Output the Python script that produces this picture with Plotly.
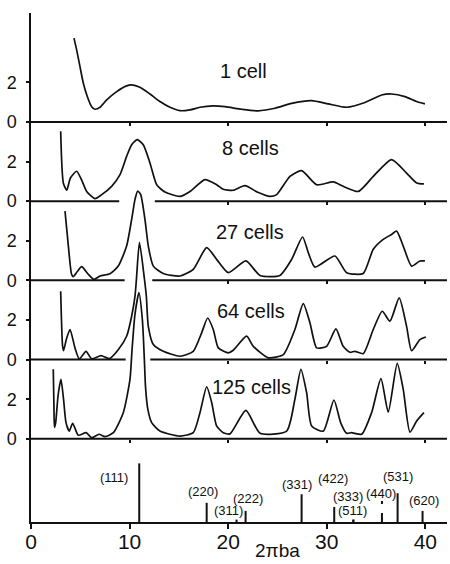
import plotly.graph_objects as go

# ---------------- data ----------------
panel_names = ["1 cell", "8 cells", "27 cells", "64 cells", "125 cells"]

x_1 = [4.36, 4.63, 4.97, 5.31, 5.71, 6.15, 6.49, 7.0, 7.68, 8.69, 9.7, 10.21, 11.05, 12.07, 13.08, 14.1,
       15.11, 16.13, 17.14, 18.49, 19.68, 21.37, 23.05, 24.75, 26.44, 28.47, 30.15, 32.02, 33.87, 35.57,
       36.58, 37.93, 39.12, 39.96]
v_1 = [4.23, 3.64, 2.79, 1.95, 1.28, 0.77, 0.64, 0.74, 1.11, 1.53, 1.82, 1.87, 1.75, 1.41, 1.03, 0.74,
       0.57, 0.61, 0.74, 0.81, 0.77, 0.64, 0.56, 0.69, 0.94, 1.08, 0.91, 0.74, 0.98, 1.36,
       1.41, 1.28, 1.03, 0.91]

x_8 = [3.01, 3.28, 3.62, 4.0, 4.63, 5.15, 5.65, 6.49, 7.17, 8.18, 9.03, 9.7, 10.21, 10.78, 11.39, 12.07,
       12.75, 13.59, 15.11, 16.13, 17.65, 18.83, 19.5, 20.52, 21.7, 23.0, 24.24, 24.92, 26.27, 27.45,
       28.98, 30.66, 31.67, 33.2, 34.72, 36.58, 38.1, 39.12, 39.86]
v_8 = [3.53, 0.92, 0.55, 1.17, 1.51, 1.05, 0.49, 0.13, 0.33, 0.75, 1.34, 2.26, 2.85, 3.11, 2.85, 1.93,
       0.83, 0.46, 0.24, 0.49, 1.09, 0.83, 0.6, 0.55, 0.78, 0.45, 0.24, 0.33, 1.25, 1.54,
       0.83, 0.97, 0.75, 0.49, 1.25, 2.1, 1.42, 0.92, 0.87]

x_27 = [3.45, 3.79, 4.12, 4.29, 4.7, 5.14, 5.82, 6.39, 7.0, 8.01, 8.85, 9.7, 10.21, 10.55, 10.82, 11.12,
        11.56, 11.9, 12.41, 13.42, 15.11, 16.46, 17.82, 18.83, 20.01, 21.8, 23.23, 25.25, 26.44, 27.55,
        28.13, 28.8, 30.83, 32.02, 33.7, 34.72, 35.73, 36.58, 37.09, 37.76, 38.61, 39.45, 39.96]
v_27 = [3.5, 1.73, 0.3, 0.19, 0.45, 0.69, 0.3, 0.05, 0.22, 0.34, 0.72, 1.73, 3.08, 4.09, 4.51, 4.34,
        3.08, 1.73, 0.72, 0.35, 0.22, 0.56, 1.65, 1.06, 0.39, 0.98, 0.25, 0.25, 1.06, 2.19,
        1.4, 0.67, 1.23, 0.39, 0.35, 1.57, 2.07, 2.32, 2.49, 1.73, 0.72, 0.98, 0.98]

x_64 = [3.01, 3.2, 3.3, 3.6, 3.96, 4.46, 4.9, 5.58, 6.15, 7.1, 7.94, 8.85, 9.7, 10.21, 10.55, 10.7, 11.0,
        11.5, 11.7, 11.9, 12.41, 13.42, 15.11, 16.46, 17.31, 17.92, 18.49, 19.0, 20.01, 20.52, 21.87,
        22.55, 24.07, 25.59, 26.77, 27.62, 28.3, 28.98, 29.99, 30.93, 31.67, 32.35, 32.86, 33.7, 34.72,
        35.63, 36.41, 37.35, 38.1, 38.61, 39.45, 40.06]
v_64 = [3.45, 0.7, 0.45, 1.05, 1.52, 0.59, 0.04, 0.42, 0.04, 0.2, 0.05, 0.5, 1.18, 2.19, 3.2, 4.1, 5.92,
        4.1, 3.2, 1.68, 0.76, 0.42, 0.17, 0.42, 1.35, 2.1, 1.52, 0.59, 0.34, 0.47, 1.18,
        0.67, 0.09, 0.25, 1.52, 2.83, 1.85, 0.59, 0.67, 1.55, 0.67, 0.37, 0.42, 0.3, 1.52,
        2.44, 1.94, 3.12, 1.68, 0.45, 1.01, 1.14]

x_125 = [2.26, 2.33, 2.38, 2.5, 2.75, 3.04, 3.3, 3.55, 3.88, 4.23, 4.8, 5.58, 6.15, 6.9, 7.51, 8.35, 9.36,
         10.04, 10.25, 10.55, 10.95, 11.3, 11.5, 11.62, 11.85, 12.24, 13.08, 15.11, 16.46, 17.14, 17.82,
         18.33, 18.83, 19.5, 20.18, 21.8, 23.23, 25.93, 26.77, 27.38, 27.96, 28.47, 29.65, 30.73, 31.41,
         32.02, 32.52, 33.54, 34.55, 35.5, 36.24, 37.15, 37.76, 38.44, 39.12, 39.86]
v_125 = [3.51, 1.5, 0.57, 0.8, 2.2, 3.0, 2.0, 0.82, 0.39, 0.78, 0.18, 0.31, 0.06, 0.23, 0.11, 0.31, 1.32,
         3.0, 4.5, 6.3, 7.38, 6.0, 4.0, 2.6, 1.5, 0.82, 0.39, 0.14, 0.31, 1.32, 2.63,
         1.83, 0.65, 0.31, 0.25, 1.44, 0.28, 0.39, 2.0, 3.51, 2.33, 0.65, 0.39, 1.96, 0.82,
         0.28, 0.31, 0.23, 1.32, 3.04, 1.35, 3.81, 2.5, 0.34, 0.9, 1.32]

# reflections (stick pattern)
hkl_labels = ["(111)", "(220)", "(311)", "(222)", "(331)", "(422)", "(333)", "(511)", "(440)", "(531)", "(620)"]
hkl_pos = [10.98, 17.82, 20.85, 21.77, 27.45, 30.76, 32.7, 32.7, 35.6, 37.19, 39.72]
hkl_int = [2.96, 0.97, 0.12, 0.56, 1.4, 0.76, 0.12, 0.12, 1.06, 1.45, 0.56]
hkl_dashed = [False, False, False, False, False, False, False, False, True, False, False]

x_ticks = [0, 10, 20, 30, 40]

# ---------------- layout constants ----------------
XMAX = 42.2
YMIN, YMAX = -4.2, 21.5
offsets = [16, 12, 8, 4, 0]          # baseline of each stacked panel
gaps = [None, (8.95, 12.56), (9.5, 12.3), (9.6, 12.1), None]
label_pos = [(18.97, 2.58), (19.17, 2.7), (18.56, 2.42), (18.66, 2.47), (18.15, 2.63)]
hkl_label_pos = [(10.05, 2.25, "right"), (17.45, 1.52, "center"), (18.36, 0.56, "left"),
                 (22.0, 1.21, "center"), (27.03, 1.87, "center"), (30.63, 2.2, "center"),
                 (32.2, 1.29, "center"), (32.6, 0.56, "center"), (35.5, 1.44, "center"),
                 (37.2, 2.32, "center"), (39.9, 1.11, "center")]

FONT = "Liberation Sans, Arial, sans-serif"
BLACK = "#111111"

series = [(x_1, v_1), (x_8, v_8), (x_27, v_27), (x_64, v_64), (x_125, v_125)]

fig = go.Figure()

# curves
for (xs, vs), off in zip(series, offsets):
    fig.add_trace(go.Scatter(x=xs, y=[v + off for v in vs], mode="lines",
                             line=dict(color=BLACK, width=1.7, shape="spline", smoothing=0.6),
                             hoverinfo="skip", showlegend=False))

# baselines (with gaps) on overlaying x axes that carry the small ticks
layout_axes = {}
for i, (off, gap) in enumerate(zip(offsets, gaps)):
    if gap is None:
        bx, by = [0, XMAX], [off, off]
        tv = [10, 20, 30, 40]
    else:
        bx, by = [0, gap[0], None, gap[1], XMAX], [off, off, None, off, off]
        tv = [20, 30, 40]
    ax = "x%d" % (i + 2)
    fig.add_trace(go.Scatter(x=bx, y=by, mode="lines", xaxis=ax, yaxis="y",
                             line=dict(color=BLACK, width=2), hoverinfo="skip", showlegend=False))
    layout_axes["xaxis%d" % (i + 2)] = dict(
        overlaying="x", anchor="free", position=(off - YMIN) / (YMAX - YMIN),
        range=[0, XMAX], tickvals=tv, ticks="outside", ticklen=3, tickwidth=1.5,
        tickcolor=BLACK, showticklabels=False, showline=False, showgrid=False, zeroline=False)

# stick pattern
for dashed in (False, True):
    sx, sy = [], []
    for p, h, d in zip(hkl_pos, hkl_int, hkl_dashed):
        if d == dashed:
            sx += [p, p, None]
            sy += [YMIN, YMIN + h, None]
    fig.add_trace(go.Scatter(x=sx, y=sy, mode="lines",
                             line=dict(color=BLACK, width=2, dash="dash" if dashed else "solid"),
                             hoverinfo="skip", showlegend=False))

annotations = []
for name, (lx, ly), off in zip(panel_names, label_pos, offsets):
    annotations.append(dict(x=lx, y=off + ly, xref="x", yref="y", text=name, showarrow=False,
                            xanchor="left", yanchor="middle", font=dict(family=FONT, size=20, color=BLACK)))
for lab, (lx, ly, anc) in zip(hkl_labels, hkl_label_pos):
    annotations.append(dict(x=lx, y=YMIN + ly, xref="x", yref="y", text=lab, showarrow=False,
                            xanchor=anc, yanchor="middle", font=dict(family=FONT, size=13, color=BLACK)))
annotations.append(dict(x=25.05, y=-0.0815, xref="x", yref="paper", text="2πba", showarrow=False,
                        xanchor="center", yanchor="bottom", font=dict(family=FONT, size=19, color=BLACK)))

ytv, ytt = [], []
for off in offsets:
    ytv += [off, off + 2]
    ytt += ["0", "2"]

fig.update_layout(
    width=450, height=564,
    margin=dict(l=31, r=3, t=13, b=42),
    paper_bgcolor="white", plot_bgcolor="white",
    showlegend=False,
    xaxis=dict(range=[0, XMAX], tickvals=x_ticks, ticks="outside", ticklen=5, tickwidth=1.5,
               tickcolor=BLACK, showline=True, linewidth=2, linecolor=BLACK, showgrid=False,
               zeroline=False, automargin=False, ticklabelstandoff=-5,
               tickfont=dict(family=FONT, size=21, color=BLACK)),
    yaxis=dict(range=[YMIN, YMAX], tickvals=ytv, ticktext=ytt, ticks="outside", ticklen=3,
               tickwidth=1.5, tickcolor=BLACK, showline=True, linewidth=1.5, linecolor=BLACK,
               showgrid=False, zeroline=False, automargin=False,
               tickfont=dict(family=FONT, size=18, color=BLACK), ticklabelstandoff=6),
    annotations=annotations,
    **layout_axes,
)

fig.write_html("out.html", config={"displayModeBar": False},
               post_script="document.body.style.margin='0px';")
